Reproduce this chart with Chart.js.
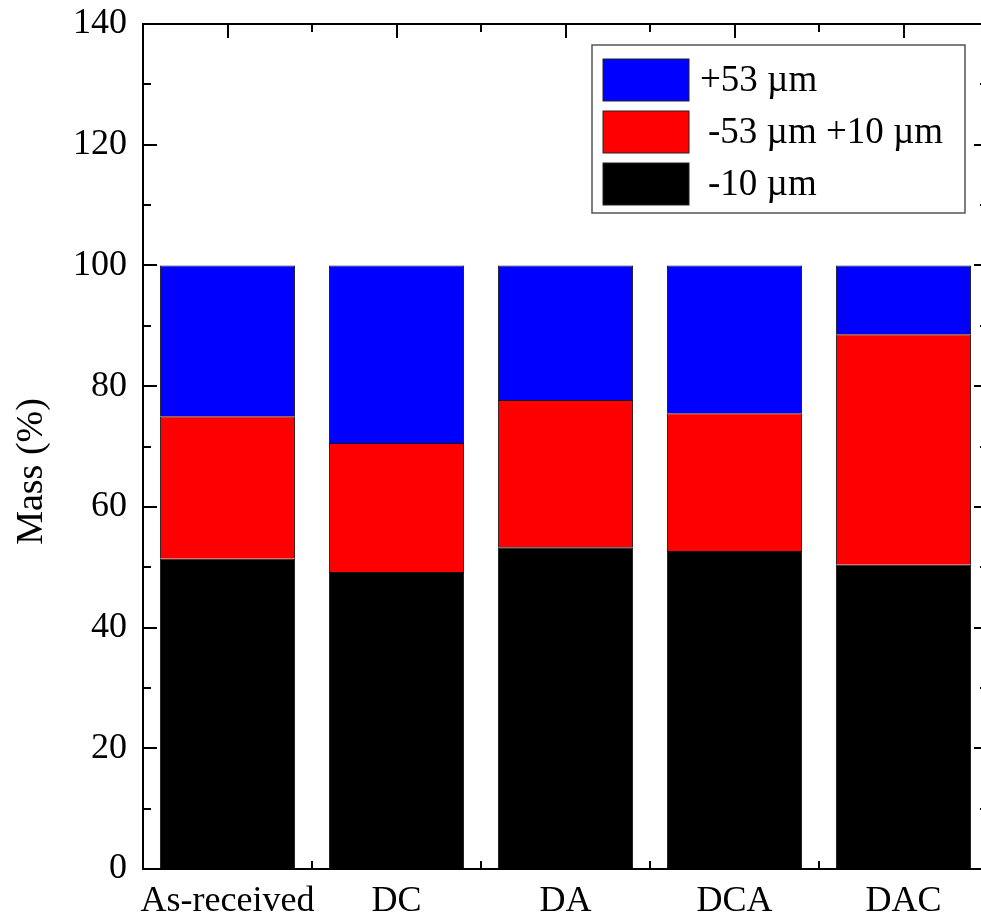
<!DOCTYPE html>
<html>
<head>
<meta charset="utf-8">
<script src="https://cdn.jsdelivr.net/npm/chart.js@4.4.0/dist/chart.umd.min.js"></script>
<style>
  html, body { margin: 0; padding: 0; background: #fff; overflow: hidden; }
  #wrap { width: 1000px; height: 922px; }
</style>
</head>
<body>
<div id="wrap"><canvas id="massChart" width="1000" height="922"></canvas></div>
<script>
    "use strict";

    // Data
    var categories = ["As-received", "DC", "DA", "DCA", "DAC"];
    var fineMass = [51.4, 49.2, 53.3, 52.7, 50.4];      // -10 um
    var middleMass = [23.6, 21.4, 24.4, 22.8, 38.2];    // -53 um +10 um
    var coarseMass = [25.0, 29.4, 22.3, 24.5, 11.4];    // +53 um
    var yTicks = [0, 20, 40, 60, 80, 100, 120, 140];

    var serif = "'Liberation Serif', 'Times New Roman', serif";

    // Frame with inward ticks on all four sides, like the original plot
    var framePlugin = {
        id: "frame",
        afterDatasetsDraw: function (chart) {
            var ctx = chart.ctx, a = chart.chartArea;
            var xs = chart.scales.x, ys = chart.scales.y;
            var major = 14, minor = 8;
            ctx.save();
            ctx.strokeStyle = "#000";
            ctx.lineWidth = 2;
            ctx.strokeRect(a.left, a.top, a.right - a.left, a.bottom - a.top);

            ctx.beginPath();
            // y ticks
            for (var v = 0; v <= 140; v += 10) {
                var py = Math.round(ys.getPixelForValue(v));
                var len = (v % 20 === 0) ? major : minor;
                ctx.moveTo(a.left, py); ctx.lineTo(a.left + len, py);
                ctx.moveTo(a.right, py); ctx.lineTo(a.right - len, py);
            }
            // x ticks: major at category centres, minor at boundaries
            for (var i = 0; i < categories.length; i++) {
                var cx = Math.round(xs.getPixelForValue(i));
                ctx.moveTo(cx, a.bottom); ctx.lineTo(cx, a.bottom - major);
                ctx.moveTo(cx, a.top); ctx.lineTo(cx, a.top + major);
                if (i > 0) {
                    var bx = Math.round(xs.getPixelForValue(i - 0.5));
                    ctx.moveTo(bx, a.bottom); ctx.lineTo(bx, a.bottom - minor);
                    ctx.moveTo(bx, a.top); ctx.lineTo(bx, a.top + minor);
                }
            }
            ctx.stroke();

            // y axis title
            ctx.translate(42, (a.top + a.bottom) / 2 + 25);
            ctx.rotate(-Math.PI / 2);
            ctx.fillStyle = "#000";
            ctx.font = "38px " + serif;
            ctx.textAlign = "center";
            ctx.textBaseline = "alphabetic";
            ctx.fillText("Mass (%)", 0, 0);
            ctx.restore();
        }
    };

    // Boxed legend in the upper right corner
    var legendPlugin = {
        id: "boxLegend",
        afterDraw: function (chart) {
            var ctx = chart.ctx, a = chart.chartArea;
            var left = a.left + 449, top = a.top + 21;
            ctx.save();
            ctx.strokeStyle = "#555";
            ctx.lineWidth = 1.5;
            ctx.strokeRect(left, top, 373, 168);
            var sets = chart.data.datasets.slice().reverse();
            ctx.font = "37px " + serif;
            ctx.textBaseline = "middle";
            sets.forEach(function (ds, k) {
                var y = top + 14 + k * 52;
                ctx.fillStyle = ds.backgroundColor;
                ctx.fillRect(left + 11, y, 86, 42);
                ctx.strokeStyle = "#222";
                ctx.lineWidth = 1;
                ctx.strokeRect(left + 11, y, 86, 42);
                ctx.fillStyle = "#000";
                ctx.fillText(ds.label, left + (k === 0 ? 108 : 116), y + 22);
            });
            ctx.restore();
        }
    };

    var ctx1 = document.getElementById("massChart").getContext("2d");
    var massChart = new Chart(ctx1, {
        type: "bar",
        data: {
            labels: categories,
            datasets: [{
                label: "-10 \u00b5m",
                data: fineMass,
                backgroundColor: "#000000",
                borderColor: "#111111",
                borderWidth: 1
            }, {
                label: "-53 \u00b5m +10 \u00b5m",
                data: middleMass,
                backgroundColor: "#ff0000",
                borderColor: "#111111",
                borderWidth: 1
            }, {
                label: "+53 \u00b5m",
                data: coarseMass,
                backgroundColor: "#0000ff",
                borderColor: "#111111",
                borderWidth: 1
            }]
        },
        options: {
            responsive: false,
            animation: false,
            layout: { padding: { top: 24, right: 12, left: 0, bottom: 0 } },
            datasets: { bar: { barPercentage: 0.8, categoryPercentage: 1.0 } },
            plugins: { legend: { display: false }, tooltip: { enabled: false } },
            scales: {
                x: {
                    stacked: true,
                    grid: { display: false, drawTicks: false },
                    border: { display: false },
                    ticks: { color: "#000", font: { family: serif, size: 36 }, padding: 11, maxRotation: 0, autoSkip: false },
                    afterFit: function (scale) {
                        scale.height = 53;
                        scale.paddingLeft = 0;
                        scale.paddingRight = 0;
                    }
                },
                y: {
                    stacked: true,
                    min: 0,
                    max: 140,
                    grid: { display: false, drawTicks: false },
                    border: { display: false },
                    afterBuildTicks: function (scale) {
                        scale.ticks = yTicks.map(function (v) { return { value: v }; });
                    },
                    ticks: { color: "#000", font: { family: serif, size: 36 }, padding: 16 },
                    afterFit: function (scale) {
                        scale.width = 143;
                        scale.paddingTop = 0;
                        scale.paddingBottom = 0;
                    }
                }
            }
        },
        plugins: [framePlugin, legendPlugin]
    });
</script>
</body>
</html>
